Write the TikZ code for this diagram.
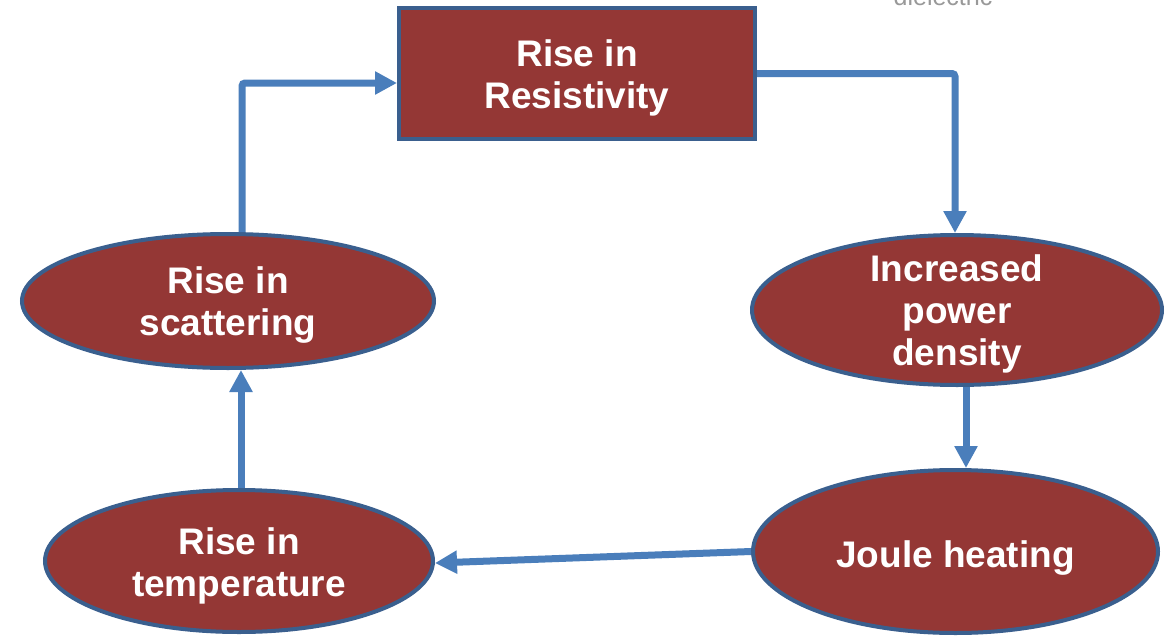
\documentclass[tikz,border=0pt]{standalone}
\usepackage{fontspec}
\setmainfont{Liberation Sans}
\usetikzlibrary{arrows.meta,shapes.geometric}
\definecolor{boxred}{HTML}{943735}
\definecolor{boxedge}{HTML}{3A5F8E}
\definecolor{arrblue}{HTML}{4A7EBB}
\tikzset{
  box/.style={draw=boxedge, fill=boxred, line width=4pt, inner sep=0pt},
  oval/.style={box, ellipse},
  lbl/.style={text=white, align=center, font=\fontsize{37}{42}\selectfont\bfseries, inner sep=0pt},
  arr/.style={draw=arrblue, line width=7pt, rounded corners=3pt,
    -{Triangle[length=22pt,width=22pt]}}
}
\begin{document}
\begin{tikzpicture}[x=1pt,y=-1pt]
\clip (0,0) rectangle (1168,635);
\fill[white] (0,0) rectangle (1168,635);
\node[anchor=base, font=\fontsize{25}{30}\selectfont, text=black!40] (diel) at (943,5) {dielectric};
\node[box, minimum width=356pt, minimum height=131pt] (res) at (577,73.5) {};
\node[oval, minimum width=412pt, minimum height=134pt] (scat) at (228,301) {};
\node[oval, minimum width=410pt, minimum height=150pt] (incr) at (957,310) {};
\node[oval, minimum width=405pt, minimum height=163pt] (joule) at (955.5,551.5) {};
\node[oval, minimum width=388pt, minimum height=142pt] (temp) at (239,561) {};
\node[lbl] (resT) at (577,77.5) {Rise in\\Resistivity};
\node[lbl] (scatT) at (228,305) {Rise in\\scattering};
\node[lbl] (incrT) at (957,313.5) {Increased\\power\\density};
\node[lbl] (jouleT) at (955.5,558.5) {Joule heating};
\node[lbl] (tempT) at (239,565.5) {Rise in\\temperature};
\draw[arr] ([xshift=14pt]scat.north) |- ([yshift=-9.5pt]res.west);
\draw[arr] (res.east) -| ([xshift=-2pt]incr.north);
\draw[arr] ([xshift=9pt]incr.south) -- ([xshift=10.5pt]joule.north);
\draw[arr] (joule.west) -- ([yshift=-2pt]temp.east);
\draw[arr] ([xshift=2pt]temp.north) -- ([xshift=13pt]scat.south);
\end{tikzpicture}
\end{document}
